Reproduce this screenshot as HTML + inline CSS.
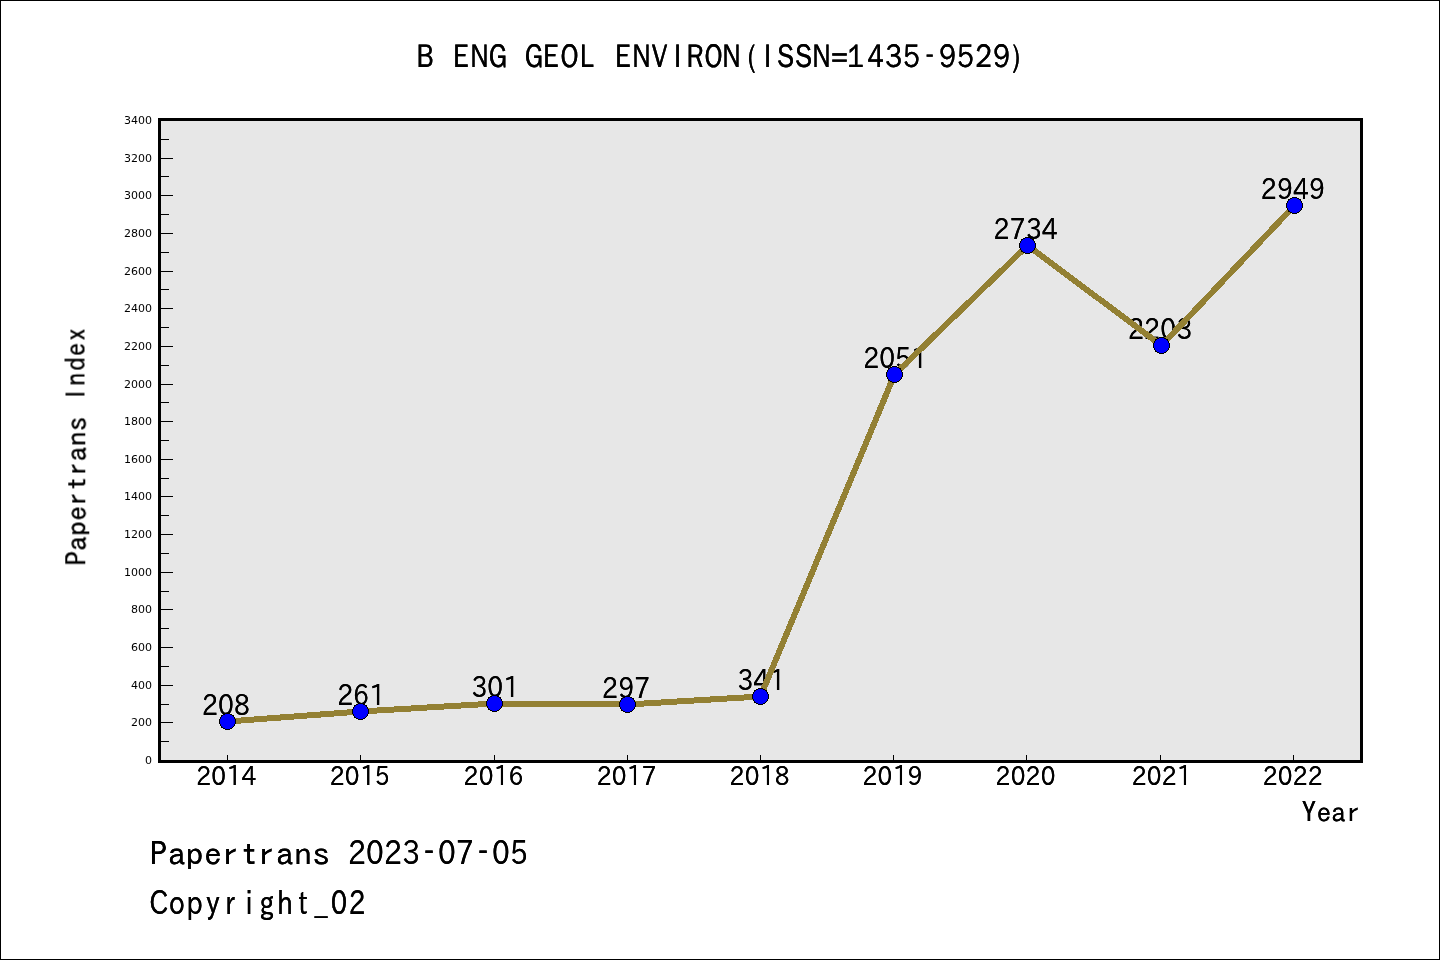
<!DOCTYPE html>
<html lang="en"><head><meta charset="utf-8"><title>B ENG GEOL ENVIRON(ISSN=1435-9529) - Papertrans Index</title>
<style>html,body{margin:0;padding:0;background:#fff;width:1440px;height:960px;overflow:hidden}svg{display:block}</style>
</head><body>
<svg width="1440" height="960" viewBox="0 0 1440 960">
<defs><filter id="hb140" x="-5%" y="-10%" width="110%" height="120%"><feOffset in="SourceGraphic" dx="0.140" dy="0" result="o"/><feMerge><feMergeNode in="SourceGraphic"/><feMergeNode in="o"/></feMerge></filter><filter id="hb142" x="-5%" y="-10%" width="110%" height="120%"><feOffset in="SourceGraphic" dx="0.142" dy="0" result="o"/><feMerge><feMergeNode in="SourceGraphic"/><feMergeNode in="o"/></feMerge></filter><filter id="hb287" x="-5%" y="-10%" width="110%" height="120%"><feOffset in="SourceGraphic" dx="0.287" dy="0" result="o"/><feMerge><feMergeNode in="SourceGraphic"/><feMergeNode in="o"/></feMerge></filter><filter id="hb290" x="-5%" y="-10%" width="110%" height="120%"><feOffset in="SourceGraphic" dx="0.290" dy="0" result="o"/><feMerge><feMergeNode in="SourceGraphic"/><feMergeNode in="o"/></feMerge></filter><filter id="hb371" x="-5%" y="-10%" width="110%" height="120%"><feOffset in="SourceGraphic" dx="0.371" dy="0" result="o"/><feMerge><feMergeNode in="SourceGraphic"/><feMergeNode in="o"/></feMerge></filter><filter id="hb377" x="-5%" y="-10%" width="110%" height="120%"><feOffset in="SourceGraphic" dx="0.377" dy="0" result="o"/><feMerge><feMergeNode in="SourceGraphic"/><feMergeNode in="o"/></feMerge></filter><filter id="hb417" x="-5%" y="-10%" width="110%" height="120%"><feOffset in="SourceGraphic" dx="0.417" dy="0" result="o"/><feMerge><feMergeNode in="SourceGraphic"/><feMergeNode in="o"/></feMerge></filter></defs>
<rect x="0.5" y="0.5" width="1439" height="959" fill="#fff" stroke="#000" stroke-width="1"/>
<rect x="159.5" y="119.5" width="1202" height="642" fill="#e7e7e7" stroke="#000" stroke-width="3"/>
<path d="M161 741.5h8M161 722.5h12M161 704.5h8M161 685.5h12M161 666.5h8M161 647.5h12M161 628.5h8M161 609.5h12M161 591.5h8M161 572.5h12M161 553.5h8M161 534.5h12M161 515.5h8M161 496.5h12M161 478.5h8M161 459.5h12M161 440.5h8M161 421.5h12M161 402.5h8M161 384.5h12M161 365.5h8M161 346.5h12M161 327.5h8M161 308.5h12M161 289.5h8M161 271.5h12M161 252.5h8M161 233.5h12M161 214.5h8M161 195.5h12M161 176.5h8M161 158.5h12M161 139.5h8M227.5 755v5M360.5 755v5M494.5 755v5M627.5 755v5M760.5 755v5M893.5 755v5M1026.5 755v5M1160.5 755v5M1293.5 755v5" stroke="#000" stroke-width="1" fill="none" shape-rendering="crispEdges"/>
<g font-family="'DejaVu Sans', 'Liberation Sans', sans-serif" font-size="11" fill="#000"><text x="152.1" y="763.60" text-anchor="end">0</text><text x="152.1" y="725.60" text-anchor="end">200</text><text x="152.1" y="688.60" text-anchor="end">400</text><text x="152.1" y="650.60" text-anchor="end">600</text><text x="152.1" y="612.60" text-anchor="end">800</text><text x="152.1" y="575.60" text-anchor="end">1000</text><text x="152.1" y="537.60" text-anchor="end">1200</text><text x="152.1" y="499.60" text-anchor="end">1400</text><text x="152.1" y="462.60" text-anchor="end">1600</text><text x="152.1" y="424.60" text-anchor="end">1800</text><text x="152.1" y="387.60" text-anchor="end">2000</text><text x="152.1" y="349.60" text-anchor="end">2200</text><text x="152.1" y="311.60" text-anchor="end">2400</text><text x="152.1" y="274.60" text-anchor="end">2600</text><text x="152.1" y="236.60" text-anchor="end">2800</text><text x="152.1" y="198.60" text-anchor="end">3000</text><text x="152.1" y="161.60" text-anchor="end">3200</text><text x="152.1" y="123.60" text-anchor="end">3400</text></g>
<g fill="#000" stroke="#000" text-anchor="middle"><text transform="translate(201.95 714.90) scale(0.870 1)" x="9.03 27.58 45.94" y="0" font-size="28.90" stroke-width="0.00" font-family="'IPAPGothic', 'WenQuanYi Zen Hei', sans-serif" filter="url(#hb287)">208</text><text transform="translate(337.20 704.90) scale(0.870 1)" x="9.03 27.30 46.36" y="0" font-size="28.90" stroke-width="0.00" font-family="'IPAPGothic', 'WenQuanYi Zen Hei', sans-serif" filter="url(#hb287)">261</text><text transform="translate(471.20 696.90) scale(0.870 1)" x="9.73 27.58 46.36" y="0" font-size="28.90" stroke-width="0.00" font-family="'IPAPGothic', 'WenQuanYi Zen Hei', sans-serif" filter="url(#hb287)">301</text><text transform="translate(602.10 697.90) scale(0.870 1)" x="9.03 27.83 45.99" y="0" font-size="28.90" stroke-width="0.00" font-family="'IPAPGothic', 'WenQuanYi Zen Hei', sans-serif" filter="url(#hb287)">297</text><text transform="translate(737.20 689.90) scale(0.870 1)" x="9.73 27.64 46.36" y="0" font-size="28.90" stroke-width="0.00" font-family="'IPAPGothic', 'WenQuanYi Zen Hei', sans-serif" filter="url(#hb287)">341</text><text transform="translate(863.20 367.90) scale(0.870 1)" x="9.03 27.58 45.81 64.76" y="0" font-size="28.90" stroke-width="0.00" font-family="'IPAPGothic', 'WenQuanYi Zen Hei', sans-serif" filter="url(#hb287)">2051</text><text transform="translate(993.60 238.90) scale(0.870 1)" x="9.03 27.60 46.51 64.42" y="0" font-size="28.90" stroke-width="0.00" font-family="'IPAPGothic', 'WenQuanYi Zen Hei', sans-serif" filter="url(#hb287)">2734</text><text transform="translate(1128.10 338.90) scale(0.870 1)" x="9.03 27.42 45.97 64.90" y="0" font-size="28.90" stroke-width="0.00" font-family="'IPAPGothic', 'WenQuanYi Zen Hei', sans-serif" filter="url(#hb287)">2203</text><text transform="translate(1260.90 198.90) scale(0.870 1)" x="9.03 27.83 46.03 64.61" y="0" font-size="28.90" stroke-width="0.00" font-family="'IPAPGothic', 'WenQuanYi Zen Hei', sans-serif" filter="url(#hb287)">2949</text></g>
<polyline points="227.5,721.5 360.5,711.5 494.5,703.5 627.5,704.5 760.5,696.5 894.5,374.5 1027.5,245.5 1161.5,345.5 1294.5,205.5" fill="none" stroke="#938033" stroke-width="6" stroke-linejoin="round" shape-rendering="crispEdges"/>
<g fill="#0000ff" stroke="#000" stroke-width="1" shape-rendering="crispEdges"><circle cx="227.5" cy="721.5" r="8"/><circle cx="360.5" cy="711.5" r="8"/><circle cx="494.5" cy="703.5" r="8"/><circle cx="627.5" cy="704.5" r="8"/><circle cx="760.5" cy="696.5" r="8"/><circle cx="894.5" cy="374.5" r="8"/><circle cx="1027.5" cy="245.5" r="8"/><circle cx="1161.5" cy="345.5" r="8"/><circle cx="1294.5" cy="205.5" r="8"/></g>
<g fill="#000" stroke="#000" text-anchor="middle"><text transform="translate(196.23 785.10) scale(0.870 1)" x="8.46 25.86 43.45 60.39" y="0" font-size="26.90" stroke-width="0.00" font-family="'IPAPGothic', 'WenQuanYi Zen Hei', sans-serif" filter="url(#hb287)">2014</text><text transform="translate(329.75 785.10) scale(0.870 1)" x="8.46 25.86 43.45 60.19" y="0" font-size="26.90" stroke-width="0.00" font-family="'IPAPGothic', 'WenQuanYi Zen Hei', sans-serif" filter="url(#hb287)">2015</text><text transform="translate(463.56 785.10) scale(0.870 1)" x="8.46 25.86 43.45 60.08" y="0" font-size="26.90" stroke-width="0.00" font-family="'IPAPGothic', 'WenQuanYi Zen Hei', sans-serif" filter="url(#hb287)">2016</text><text transform="translate(596.70 785.10) scale(0.870 1)" x="8.46 25.86 43.45 60.36" y="0" font-size="26.90" stroke-width="0.00" font-family="'IPAPGothic', 'WenQuanYi Zen Hei', sans-serif" filter="url(#hb287)">2017</text><text transform="translate(729.56 785.10) scale(0.870 1)" x="8.46 25.86 43.45 60.31" y="0" font-size="26.90" stroke-width="0.00" font-family="'IPAPGothic', 'WenQuanYi Zen Hei', sans-serif" filter="url(#hb287)">2018</text><text transform="translate(862.51 785.10) scale(0.870 1)" x="8.46 25.86 43.45 60.57" y="0" font-size="26.90" stroke-width="0.00" font-family="'IPAPGothic', 'WenQuanYi Zen Hei', sans-serif" filter="url(#hb287)">2019</text><text transform="translate(995.61 785.10) scale(0.870 1)" x="8.46 25.86 42.95 60.34" y="0" font-size="26.90" stroke-width="0.00" font-family="'IPAPGothic', 'WenQuanYi Zen Hei', sans-serif" filter="url(#hb287)">2020</text><text transform="translate(1131.67 785.10) scale(0.870 1)" x="8.46 25.86 42.95 60.69" y="0" font-size="26.90" stroke-width="0.00" font-family="'IPAPGothic', 'WenQuanYi Zen Hei', sans-serif" filter="url(#hb287)">2021</text><text transform="translate(1262.70 785.10) scale(0.870 1)" x="8.46 25.86 42.95 60.19" y="0" font-size="26.90" stroke-width="0.00" font-family="'IPAPGothic', 'WenQuanYi Zen Hei', sans-serif" filter="url(#hb287)">2022</text><text transform="translate(416.60 67.00) scale(0.840 1)" x="10.12 32.14 52.67 74.84 96.62 117.86 139.48 159.81 182.26 202.37 225.00 245.53 267.70 289.19 310.75 331.55 353.68 374.84 399.27 417.89 439.30 460.73 481.98 503.59 522.59 546.40 567.84 589.29 612.14 632.14 653.57 674.95 696.43 713.59" y="0.00 0.00 0.00 0.00 0.00 0.00 0.00 0.00 0.00 0.00 0.00 0.00 0.00 0.00 0.00 0.00 0.00 0.00 0.00 0.00 0.00 0.00 0.00 0.00 0.00 0.00 0.00 0.00 -3.29 0.00 0.00 0.00 0.00 0.00" font-size="32.90" stroke-width="0.15" font-family="'WenQuanYi Zen Hei', 'Noto Sans CJK SC', sans-serif" filter="url(#hb417)">B ENG GEOL ENVIRON(ISSN=1435-9529)</text><text transform="translate(1301.50 821.67) scale(1.055 1)" x="7.06 21.16 35.01 48.70" y="0" font-size="28.14" stroke-width="0.00" font-family="'IPAGothic', 'WenQuanYi Zen Hei', sans-serif" filter="url(#hb142)">Year</text><g transform="translate(84.50 565.50) rotate(-90)"><text transform="translate(0.00 1.77) scale(1.055 1)" x="6.70 20.88 34.98 49.42 62.82 77.77 91.08 105.65 120.01 134.27" y="0" font-size="28.14" stroke-width="0.00" font-family="'IPAGothic', 'WenQuanYi Zen Hei', sans-serif" filter="url(#hb142)">Papertrans</text><text transform="translate(163.90 0.00) scale(0.795 1)" x="9.39 28.05 47.46 65.60 84.35" y="0" font-size="27.31" stroke-width="0.10" font-family="'IPAPGothic', 'WenQuanYi Zen Hei', sans-serif" filter="url(#hb377)">Index</text></g><text transform="translate(150.00 866.31) scale(1.073 1)" x="7.96 24.80 41.54 58.70 74.62 92.38 108.19 125.49 142.55 159.48" y="0" font-size="33.43" stroke-width="0.00" font-family="'IPAGothic', 'WenQuanYi Zen Hei', sans-serif" filter="url(#hb140)">Papertrans</text><text transform="translate(348.00 864.20) scale(0.863 1)" x="10.24 31.28 51.95 73.60 93.86 114.70 135.58 156.42 177.26 197.94" y="0.00 0.00 0.00 0.00 -2.29 0.00 0.00 -2.29 0.00 0.00" font-size="32.77" stroke-width="0.00" font-family="'IPAPGothic', 'WenQuanYi Zen Hei', sans-serif" filter="url(#hb290)">2023-07-05</text><text transform="translate(150.00 913.80) scale(0.808 1)" x="10.91 33.49 55.14 77.99 99.03 122.59 144.62 167.06 189.13 211.75 234.03 256.14" y="0" font-size="32.49" stroke-width="0.10" font-family="'IPAPGothic', 'WenQuanYi Zen Hei', sans-serif" filter="url(#hb371)">Copyright_02</text></g>
</svg>
</body></html>
